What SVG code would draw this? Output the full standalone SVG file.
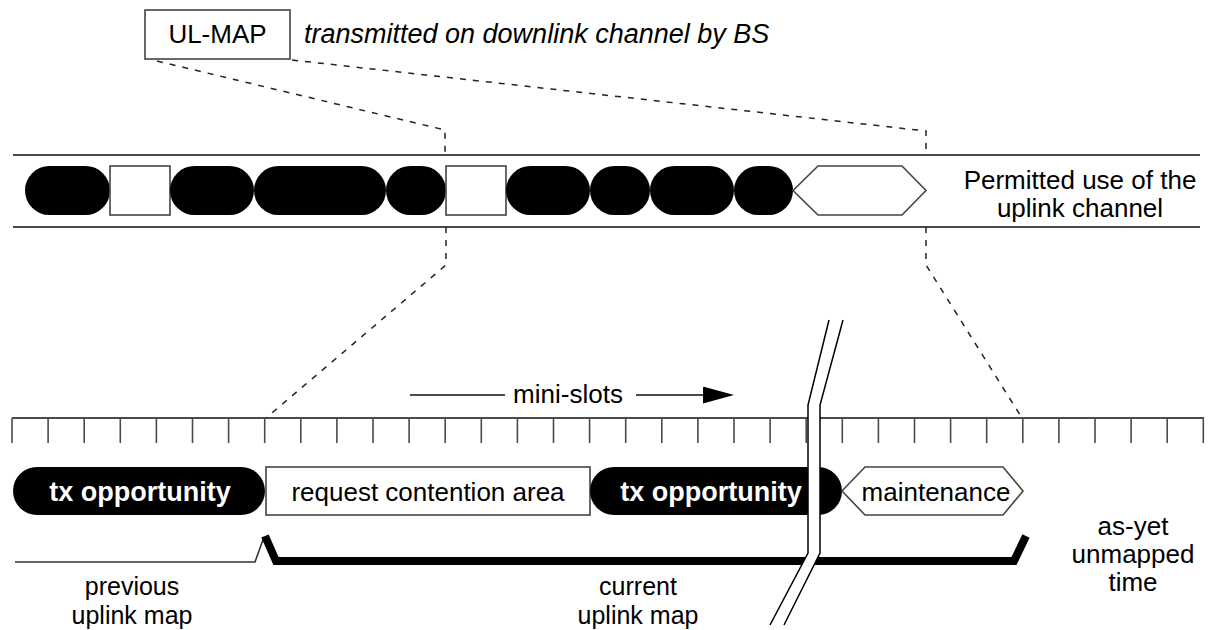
<svg xmlns="http://www.w3.org/2000/svg" width="1210" height="630" viewBox="0 0 1210 630">
  <defs>
    <style>
      .txt { font-family: "Liberation Sans", Arial, sans-serif; font-size: 26px; fill: #000; }
      .mid { text-anchor: middle; }
      .ital { font-style: italic; font-size: 27px; }
      .bold { font-weight: bold; font-size: 27px; fill: #fff; }
      .cap { font-size: 25px; }
      .rule { stroke: #4a4a4a; stroke-width: 2; fill: none; }
      .box { fill: #fff; stroke: #444; stroke-width: 1.6; }
      .slot { fill: #000; }
      .dash { stroke: #222; stroke-width: 1.5; fill: none; stroke-dasharray: 6 7; }
      .tick { stroke: #4a4a4a; stroke-width: 1.6; }
      .brk { stroke: #000; stroke-width: 1.5; fill: none; }
    </style>
    <marker id="arrowhead" viewBox="0 0 31 17" refX="0" refY="8.5" markerWidth="31" markerHeight="17" markerUnits="userSpaceOnUse" orient="auto">
      <polygon points="0,0 31,8.5 0,17" fill="#000"/>
    </marker>
  </defs>

  <rect width="1210" height="630" fill="#fff"/>

  <!-- UL-MAP message box -->
  <g id="ulmap">
    <rect class="box" x="145" y="10" width="145" height="49"/>
    <text class="txt mid" x="217.5" y="43">UL-MAP</text>
  </g>
  <text id="ulmap-note" class="txt ital" x="304" y="43">transmitted on downlink channel by BS</text>

  <!-- uplink channel band -->
  <g id="channel">
    <line class="rule" x1="13" y1="155" x2="1200" y2="155"/>
    <line class="rule" x1="13" y1="227" x2="1200" y2="227"/>
    <rect class="slot" x="25" y="166" width="85" height="49" rx="24.5"/>
    <rect class="box" x="110" y="166" width="60" height="49"/>
    <rect class="slot" x="170" y="166" width="84" height="49" rx="24.5"/>
    <rect class="slot" x="254" y="166" width="132" height="49" rx="24.5"/>
    <rect class="slot" x="386" y="166" width="60" height="49" rx="24.5"/>
    <rect class="box" x="446" y="166" width="60" height="49"/>
    <rect class="slot" x="506" y="166" width="84" height="49" rx="24.5"/>
    <rect class="slot" x="590" y="166" width="60" height="49" rx="24.5"/>
    <rect class="slot" x="650" y="166" width="84" height="49" rx="24.5"/>
    <rect class="slot" x="734" y="166" width="59" height="49" rx="24.5"/>
    <polygon class="box" points="793,190.5 818,166 902,166 926,190.5 902,215 818,215"/>
    <text class="txt mid" x="1080" y="189">Permitted use of the</text>
    <text class="txt mid" x="1080" y="217">uplink channel</text>
  </g>

  <!-- mini-slot scale -->
  <g id="minislots">
    <line class="rule" x1="12" y1="418" x2="1204" y2="418"/>
    <g class="tick">
      <line x1="12" y1="418" x2="12" y2="443"/>
      <line x1="48.1" y1="418" x2="48.1" y2="443"/>
      <line x1="84.2" y1="418" x2="84.2" y2="443"/>
      <line x1="120.3" y1="418" x2="120.3" y2="443"/>
      <line x1="156.4" y1="418" x2="156.4" y2="443"/>
      <line x1="192.5" y1="418" x2="192.5" y2="443"/>
      <line x1="228.6" y1="418" x2="228.6" y2="443"/>
      <line x1="264.7" y1="418" x2="264.7" y2="443"/>
      <line x1="300.8" y1="418" x2="300.8" y2="443"/>
      <line x1="336.9" y1="418" x2="336.9" y2="443"/>
      <line x1="373" y1="418" x2="373" y2="443"/>
      <line x1="409.1" y1="418" x2="409.1" y2="443"/>
      <line x1="445.2" y1="418" x2="445.2" y2="443"/>
      <line x1="481.3" y1="418" x2="481.3" y2="443"/>
      <line x1="517.4" y1="418" x2="517.4" y2="443"/>
      <line x1="553.5" y1="418" x2="553.5" y2="443"/>
      <line x1="589.6" y1="418" x2="589.6" y2="443"/>
      <line x1="625.7" y1="418" x2="625.7" y2="443"/>
      <line x1="661.8" y1="418" x2="661.8" y2="443"/>
      <line x1="697.9" y1="418" x2="697.9" y2="443"/>
      <line x1="734" y1="418" x2="734" y2="443"/>
      <line x1="770.1" y1="418" x2="770.1" y2="443"/>
      <line x1="806.2" y1="418" x2="806.2" y2="443"/>
      <line x1="842.3" y1="418" x2="842.3" y2="443"/>
      <line x1="878.4" y1="418" x2="878.4" y2="443"/>
      <line x1="914.5" y1="418" x2="914.5" y2="443"/>
      <line x1="950.6" y1="418" x2="950.6" y2="443"/>
      <line x1="986.7" y1="418" x2="986.7" y2="443"/>
      <line x1="1022.8" y1="418" x2="1022.8" y2="443"/>
      <line x1="1058.9" y1="418" x2="1058.9" y2="443"/>
      <line x1="1095" y1="418" x2="1095" y2="443"/>
      <line x1="1131.1" y1="418" x2="1131.1" y2="443"/>
      <line x1="1167.2" y1="418" x2="1167.2" y2="443"/>
      <line x1="1203.3" y1="418" x2="1203.3" y2="443"/>
    </g>
    <line class="rule" x1="410" y1="395" x2="505" y2="395"/>
    <text class="txt mid" x="568" y="403">mini-slots</text>
    <line class="rule" x1="636" y1="395" x2="703" y2="395" marker-end="url(#arrowhead)"/>
  </g>

  <!-- current uplink map allocations -->
  <g id="tx1">
    <rect class="slot" x="13" y="467" width="252" height="48" rx="24"/>
    <text class="txt mid bold" x="140" y="501">tx opportunity</text>
  </g>
  <g id="contention">
    <rect class="box" x="266" y="467" width="324" height="48"/>
    <text class="txt mid" x="428" y="501">request contention area</text>
  </g>
  <g id="tx2">
    <rect class="slot" x="590" y="467" width="252" height="48" rx="24"/>
    <text class="txt mid bold" x="711" y="501">tx opportunity</text>
  </g>
  <g id="maintenance">
    <polygon class="box" points="842,491 865,467 1003,467 1023,491 1003,515 865,515"/>
    <text class="txt mid" x="936" y="501">maintenance</text>
  </g>

  <!-- map extent brackets -->
  <g id="brackets">
    <polyline points="15,562 255,562 264,537" fill="none" stroke="#333" stroke-width="1.6"/>
    <polyline points="265,536 276,561 1014,561 1026,536" fill="none" stroke="#000" stroke-width="8" stroke-linejoin="miter"/>
  </g>

  <!-- zoom connectors -->
  <g id="connectors">
    <polyline class="dash" points="157,61 445,130 445,155"/>
    <polyline class="dash" points="292,60 926,131 926,155"/>
    <polyline class="dash" points="446,227 446,265 266,418"/>
    <polyline class="dash" points="926,227 926,265 1022,418"/>
  </g>

  <!-- time break -->
  <g id="timebreak">
    <polygon points="829,320 808,405 808,553 770,625 784,625 820,553 820,405 843,320" fill="#fff"/>
    <polyline class="brk" points="829,320 808,405 808,553 770,625"/>
    <polyline class="brk" points="843,320 820,405 820,553 784,625"/>
  </g>

  <!-- axis labels -->
  <g id="labels">
    <text class="txt mid cap" x="132" y="595">previous</text>
    <text class="txt mid cap" x="132" y="624">uplink map</text>
    <text class="txt mid cap" x="638" y="595">current</text>
    <text class="txt mid cap" x="638" y="624">uplink map</text>
    <text class="txt mid" x="1133" y="535">as-yet</text>
    <text class="txt mid" x="1133" y="563">unmapped</text>
    <text class="txt mid" x="1133" y="591">time</text>
  </g>
</svg>
